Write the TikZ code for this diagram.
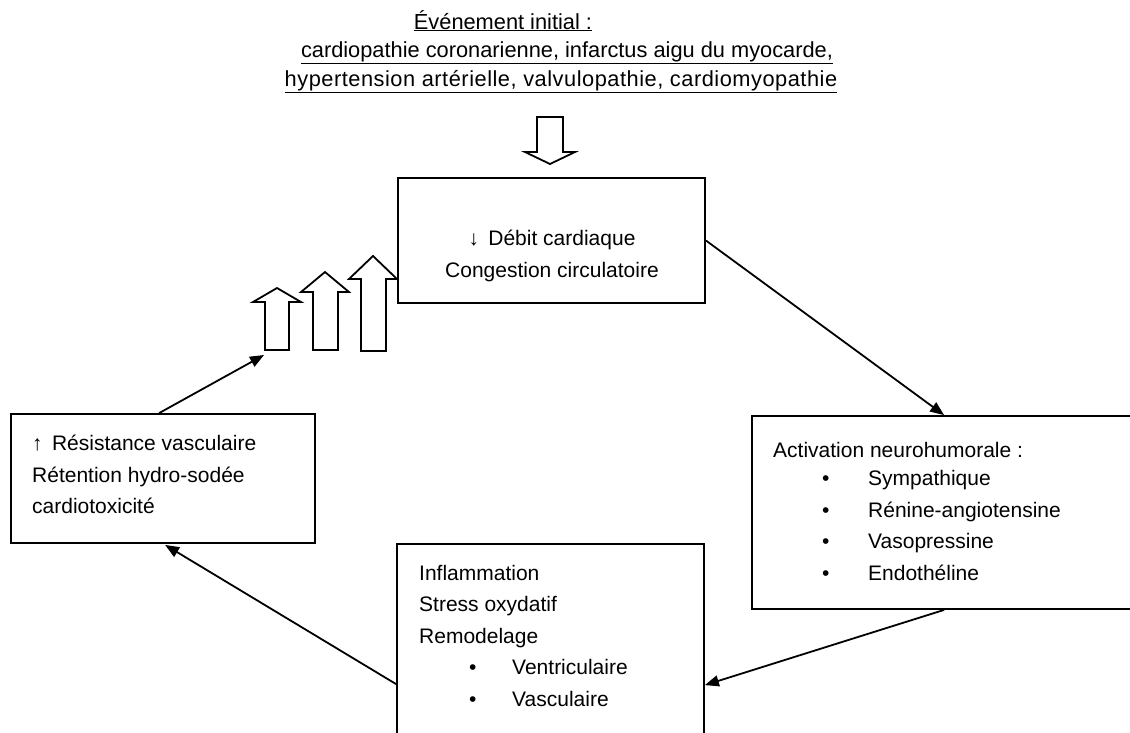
\documentclass[tikz,border=0pt]{standalone}
\usepackage{fontspec}
\setmainfont{Liberation Sans}
\usetikzlibrary{arrows.meta,calc}

\tikzset{
  box/.style={draw, line width=1.8pt, rectangle, inner sep=0pt, fill=white},
  txt/.style={anchor=base west, inner sep=0pt, font=\fontsize{21}{31.5}\selectfont},
  ctxt/.style={anchor=base, inner sep=0pt, font=\fontsize{21}{31.5}\selectfont},
  ttl/.style={anchor=base, inner sep=0pt, font=\fontsize{21.8}{28}\selectfont},
  link/.style={line width=1.8pt, -{Triangle[length=14pt,width=11pt]}},
  blockarrow/.style={draw, line width=1.8pt, fill=white, line join=miter}
}
\newcommand{\bul}[1]{\hspace*{49pt}\makebox[46pt][l]{•}#1}
\newcommand{\bulb}[1]{\hspace*{50pt}\makebox[43pt][l]{•}#1}

\begin{document}
\begin{tikzpicture}[x=1pt,y=-1pt]
\useasboundingbox (0,0) rectangle (1130,732);
\clip (0,0) rectangle (1130,732);
\fill[white] (0,0) rectangle (1130,732);

% title
\node[ttl] (t1) at (503,29) {\underline{Événement initial :}};
\node[ttl] (t2) at (567,57) {\underline{cardiopathie coronarienne, infarctus aigu du myocarde,}};
\node[ttl] (t3) at (561,86) {\addfontfeature{LetterSpace=2.4}\underline{hypertension artérielle, valvulopathie, cardiomyopathie}};

% hollow arrow down onto the first box
\draw[blockarrow] (537,117) -- (563,117) -- (563,152) -- (575,152) -- (550,164)
  -- (525,152) -- (537,152) -- cycle;

% boxes
\node[box, minimum width=307pt, minimum height=125pt] (top) at (551.5,240.5) {};
\node[box, minimum width=400pt, minimum height=193pt] (right) at (952,512.5) {};
\node[box, minimum width=307pt, minimum height=216pt] (bottom) at (550.5,652) {};
\node[box, minimum width=304pt, minimum height=129pt] (left) at (163,478.5) {};

% texts of the top box
\node[ctxt] (d1) at (552,245) {↓\, Débit cardiaque};
\node[ctxt] (d2) at (552,277) {Congestion circulatoire};

% texts of the right box
\node[txt] (r0) at (773,457) {Activation neurohumorale :};
\node[txt] (r1) at (773,485) {\bul{Sympathique}};
\node[txt] (r2) at (773,517) {\bul{Rénine-angiotensine}};
\node[txt] (r3) at (773,548) {\bul{Vasopressine}};
\node[txt] (r4) at (773,580) {\bul{Endothéline}};

% texts of the bottom box
\node[txt] (b0) at (419,580) {Inflammation};
\node[txt] (b1) at (419,611) {Stress oxydatif};
\node[txt] (b2) at (419,643) {Remodelage};
\node[txt] (b3) at (419,674) {\bulb{Ventriculaire}};
\node[txt] (b4) at (419,706) {\bulb{Vasculaire}};

% texts of the left box
\node[txt] (l0) at (32,450) {↑\, Résistance vasculaire};
\node[txt] (l1) at (32,482) {Rétention hydro-sodée};
\node[txt] (l2) at (32,513) {cardiotoxicité};

% rising hollow arrows
\draw[blockarrow] (265,350) -- (265,302) -- (253,302) -- (277,288) -- (301,302)
  -- (289,302) -- (289,350) -- cycle;
\draw[blockarrow] (313,350) -- (313,292) -- (301,292) -- (325,272) -- (349,292)
  -- (338,292) -- (338,350) -- cycle;
\draw[blockarrow] (361,351) -- (361,279) -- (349,279) -- (373,256) -- (397,279)
  -- (386,279) -- (386,351) -- cycle;
\coordinate (stairs) at (264,355);

% connection points on the boxes
\coordinate (rIn) at ($(right.north west)+(193,0)$);
\coordinate (rOut) at ($(right.south west)+(193,0)$);
\coordinate (bIn) at ($(bottom.north east)+(0,142)$);
\coordinate (bOut) at ($(bottom.north west)+(0,141)$);
\coordinate (lIn) at ($(left.south west)+(155,1)$);
\coordinate (lOut) at ($(left.north west)+(149,0)$);

% cycle connectors
\draw[link] (top.east) -- (rIn);
\draw[link] (rOut) -- (bIn);
\draw[link] (bOut) -- (lIn);
\draw[link] (lOut) -- (stairs);
\end{tikzpicture}
\end{document}
